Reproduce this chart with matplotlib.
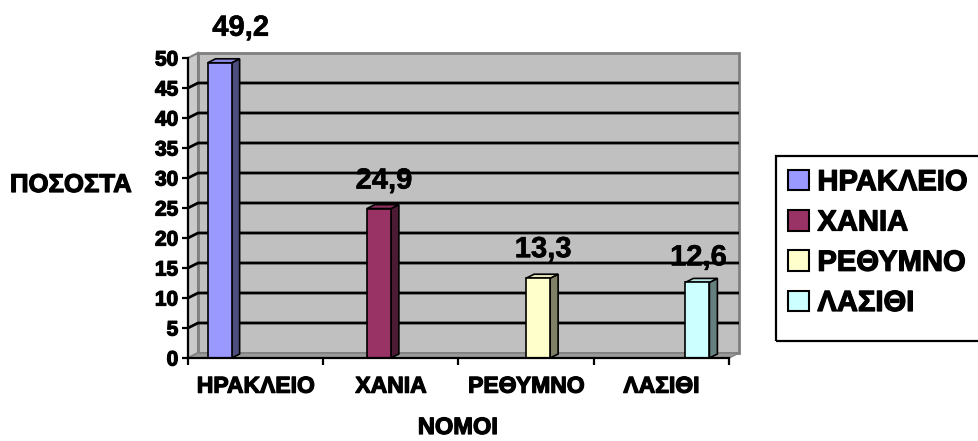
import matplotlib
matplotlib.use("Agg")
import matplotlib.pyplot as plt
import matplotlib.patheffects as pe
from matplotlib.patches import Polygon, Rectangle, Patch

plt.rcParams['font.family'] = ['Liberation Sans', 'DejaVu Sans']
plt.rcParams['font.weight'] = 'bold'

# ---- data ----
categories = ['ΗΡΑΚΛΕΙΟ', 'ΧΑΝΙΑ', 'ΡΕΘΥΜΝΟ', 'ΛΑΣΙΘΙ']
values = [49.2, 24.9, 13.3, 12.6]
value_labels = ['49,2', '24,9', '13,3', '12,6']
yticks = [0, 5, 10, 15, 20, 25, 30, 35, 40, 45, 50]
ytick_labels = ['0', '5', '10', '15', '20', '25', '30', '35', '40', '45', '50']
x_title = 'ΝΟΜΟΙ'
y_title = 'ΠΟΣΟΣΤΑ'

# ---- style ----
front_colors = ['#9999FF', '#993366', '#FFFFCC', '#CCFFFF']
side_colors = ['#4D4D80', '#4D1A33', '#808066', '#668080']
top_colors = ['#8A8AE6', '#8A2E5C', '#E6E6B8', '#B8E6E6']
label_dx_px = [21, 5, 5, 1]
label_dy_px = [27, 20, 21, 17]
heavy = [pe.withStroke(linewidth=0.9, foreground='black')]
light = [pe.withStroke(linewidth=0.4, foreground='black')]

W, H = 979, 441
fig = plt.figure(figsize=(W / 100, H / 100), dpi=100)
ax = fig.add_axes([188 / W, (H - 358) / H, 541 / W, 300 / H])
ax.set_xlim(0, 4)
ax.set_ylim(0, 50)
ax.patch.set_visible(False)

# depth offsets converted to data units
px_x = 4 / 541.0
px_y = 50 / 300.0
dxw, dyw = 10 * px_x, 5 * px_y   # wall depth
dxb, dyb = 8 * px_x, 4 * px_y    # bar depth

wall_gray = '#C0C0C0'
edge_gray = '#808080'

# back wall
ax.add_patch(Polygon([(dxw, dyw), (4 + dxw, dyw), (4 + dxw, 50 + dyw), (dxw, 50 + dyw)],
                     closed=True, facecolor=wall_gray, edgecolor=edge_gray, lw=2,
                     clip_on=False, zorder=0.5))
# side wall
ax.add_patch(Polygon([(0, 0), (0, 50), (dxw, 50 + dyw), (dxw, dyw)],
                     closed=True, facecolor='#CACACA', edgecolor=edge_gray, lw=1.5,
                     clip_on=False, zorder=0.6))
# floor
ax.add_patch(Polygon([(0, 0), (4, 0), (4 + dxw, dyw), (dxw, dyw)],
                     closed=True, facecolor='#9A9A9A', edgecolor=edge_gray, lw=1,
                     clip_on=False, zorder=0.6))
# gridlines
for yv in yticks[1:-1]:
    ax.plot([0, dxw, 4 + dxw], [yv, yv + dyw, yv + dyw], color='black', lw=2,
            clip_on=False, zorder=0.8, solid_capstyle='butt')

# bars
w = 0.1775
n = len(categories)
for i in range(n):
    xc = i + 0.5 + (i - (n - 1) / 2) * w
    h = values[i]
    x0, x1 = xc - w / 2, xc + w / 2
    ax.add_patch(Polygon([(x1, 0), (x1 + dxb, dyb), (x1 + dxb, h + dyb), (x1, h)],
                         closed=True, facecolor=side_colors[i], edgecolor='black', lw=1.2,
                         zorder=3, clip_on=False))
    ax.add_patch(Polygon([(x0, h), (x1, h), (x1 + dxb, h + dyb), (x0 + dxb, h + dyb)],
                         closed=True, facecolor=top_colors[i], edgecolor='black', lw=1.2,
                         zorder=3, clip_on=False))
    ax.bar([xc], [h], width=w, color=front_colors[i], edgecolor='black', lw=1.2,
           zorder=4, clip_on=False)
    ax.annotate(value_labels[i], xy=(xc, h), xytext=(label_dx_px[i], label_dy_px[i]),
                textcoords='offset pixels', ha='center', va='baseline',
                fontsize=21, fontweight='bold', color='black', annotation_clip=False,
                path_effects=light)

# spines
for s in ['top', 'right']:
    ax.spines[s].set_visible(False)
for s in ['left', 'bottom']:
    ax.spines[s].set_linewidth(1.6)
    ax.spines[s].set_color('black')
    ax.spines[s].set_zorder(5)

ax.set_yticks(yticks)
ax.set_yticklabels(ytick_labels, fontsize=15, fontweight='bold')
ax.tick_params(axis='y', direction='out', length=4, width=1.6, pad=3)

ax.set_xticks(range(n + 1))
ax.set_xticklabels([''] * (n + 1))
ax.set_xticks([i + 0.5 for i in range(n)], minor=True)
ax.set_xticklabels(categories, minor=True, fontsize=16.5, fontweight='bold')
ax.tick_params(axis='x', which='major', direction='out', length=5, width=1.6)
ax.tick_params(axis='x', which='minor', length=0, pad=12)
for t in ax.get_yticklabels() + ax.get_xticklabels(minor=True):
    t.set_path_effects(heavy)

fig.text(10 / W, 1 - 185 / H, y_title, ha='left', va='center', fontsize=18.5,
         fontweight='bold', path_effects=heavy)
fig.text(458 / W, 2 / H, x_title, ha='center', va='bottom', fontsize=17,
         fontweight='bold', path_effects=heavy)

# legend
handles = [Patch(facecolor=front_colors[i], edgecolor='black', lw=1.5) for i in range(n)]
leg = fig.legend(handles, categories, loc='upper left',
                 bbox_to_anchor=(776 / W, 1 - 156 / H), borderaxespad=0,
                 frameon=False, prop={'size': 21, 'weight': 'bold'},
                 handlelength=0.7, handleheight=0.7, handletextpad=0.3,
                 labelspacing=0.42, borderpad=0.42)
for t in leg.get_texts():
    t.set_path_effects(heavy)
fig.add_artist(Rectangle((776 / W, 1 - 341 / H), 300 / W, 185 / H,
                         transform=fig.transFigure, facecolor='none',
                         edgecolor='black', lw=1.6, clip_on=False))

fig.savefig('out.png', dpi=100)
